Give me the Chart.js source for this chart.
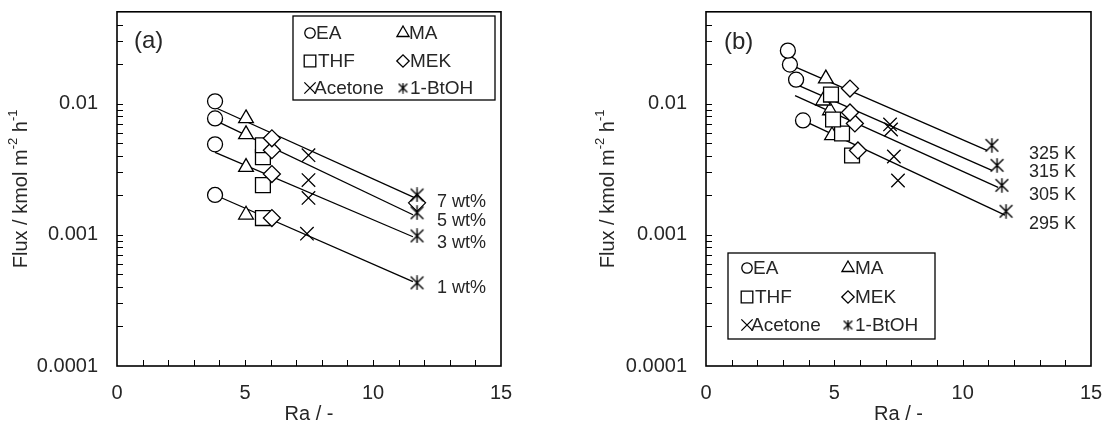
<!DOCTYPE html>
<html><head><meta charset="utf-8">
<script src="https://cdn.jsdelivr.net/npm/chart.js@4.4.0/dist/chart.umd.min.js"></script>
<style>
html,body{margin:0;padding:0;background:#fff;}
#wrap{position:relative;width:1108px;height:432px;overflow:hidden;}
canvas{position:absolute;top:0;}
</style></head><body>
<div id="wrap"><canvas id="ca" width="554" height="432" style="left:0"></canvas><canvas id="cb" width="554" height="432" style="left:554px"></canvas></div>
<script>
// ---------- Data: panel (a), concentration series (1, 3, 5, 7 wt%) ----------
const solventNames = ['EA', 'MA', 'THF', 'MEK', 'Acetone', '1-BtOH'];
const concLabels = ['7 wt%', '5 wt%', '3 wt%', '1 wt%'];
const tempLabels = ['325 K', '315 K', '305 K', '295 K'];
const xTickValues = [0, 5, 10, 15];
const yTickValues = [0.0001, 0.001, 0.01];

const a_EA_x = [3.83, 3.83, 3.83, 3.83];
const a_EA_y = [0.00201, 0.00489, 0.00770, 0.0104];
const a_MA_x = [5.04, 5.04, 5.04, 5.04];
const a_MA_y = [0.00142, 0.00328, 0.00582, 0.00770];
const a_THF_x = [5.70, 5.70, 5.70, 5.70];
const a_THF_y = [0.00134, 0.00239, 0.00390, 0.00481];
const a_MEK_x = [6.05, 6.05, 6.05, 6.05, 11.72];
const a_MEK_y = [0.00134, 0.00290, 0.00441, 0.00543, 0.00175];
const a_Ace_x = [7.42, 7.48, 7.48, 7.48];
const a_Ace_y = [0.00102, 0.00191, 0.00261, 0.00404];
const a_But_x = [11.72, 11.72, 11.72, 11.72];
const a_But_y = [0.00043, 0.00098, 0.00147, 0.00201];

// fitted lines (a): 1, 3, 5, 7 wt%
const a_fit1_x = [3.83, 11.56], a_fit1_y = [0.00201, 0.00044];
const a_fit3_x = [3.83, 11.56], a_fit3_y = [0.00425, 0.000966];
const a_fit5_x = [3.83, 11.56], a_fit5_y = [0.00744, 0.00142];
const a_fit7_x = [3.83, 11.64], a_fit7_y = [0.00933, 0.00191];

// ---------- Data: panel (b), temperature series (295 - 325 K) ----------
const b_EA_x = [3.78, 3.51, 3.27, 3.19];
const b_EA_y = [0.00743, 0.0152, 0.0198, 0.0253];
const b_MA_x = [4.91, 4.83, 4.56, 4.67];
const b_MA_y = [0.00571, 0.00885, 0.0105, 0.0155];
const b_THF_x = [5.69, 5.30, 4.95, 4.87];
const b_THF_y = [0.00402, 0.00591, 0.00756, 0.0117];
const b_MEK_x = [5.92, 5.80, 5.61, 5.61];
const b_MEK_y = [0.00439, 0.00705, 0.00854, 0.0130];
const b_Ace_x = [7.48, 7.32, 7.21, 7.17];
const b_Ace_y = [0.00259, 0.00395, 0.00634, 0.00693];
const b_But_x = [11.69, 11.53, 11.34, 11.14];
const b_But_y = [0.00151, 0.00238, 0.00338, 0.00480];

// fitted lines (b): 295, 305, 315, 325 K
const b_fit295_x = [3.78, 11.65], b_fit295_y = [0.00743, 0.00141];
const b_fit305_x = [3.47, 11.38], b_fit305_y = [0.0115, 0.00230];
const b_fit315_x = [3.51, 11.14], b_fit315_y = [0.0140, 0.00309];
const b_fit325_x = [3.27, 10.95], b_fit325_y = [0.0198, 0.00439];

// ---------- Rendering ----------
const FONT = "'Liberation Sans', Arial, Helvetica, sans-serif";
const TXT = '#262626';

function makeAsterisk(size, lw) {
  const c = document.createElement('canvas');
  c.width = size; c.height = size;
  const g = c.getContext('2d');
  g.strokeStyle = '#000'; g.lineWidth = lw; g.lineCap = 'butt';
  const m = 1.2, s = size;
  g.beginPath();
  g.moveTo(m, m); g.lineTo(s - m, s - m);
  g.moveTo(s - m, m); g.lineTo(m, s - m);
  g.moveTo(s / 2, 0.3); g.lineTo(s / 2, s - 0.3);
  g.stroke();
  return c;
}
const starBig = makeAsterisk(15, 1.4);
const starSmall = makeAsterisk(11, 1.3);

const styles = [
  {style: 'circle', r: 7.5, lr: 5.2},
  {style: 'triangle', r: 8.5, lr: 7},
  {style: 'rect', r: 10.5, lr: 8.2},
  {style: 'rectRot', r: 8.5, lr: 6.2},
  {style: 'crossRot', r: 9.5, lr: 8},
  {style: starBig, r: 7.5, lr: 5.5, legendStyle: starSmall}
];

function pts(xs, ys) { return xs.map((x, i) => ({x: x, y: ys[i]})); }

function drawYTitle(ctx, cx, cy) {
  const parts = [['Flux / kmol m', 20, 0], ['-2', 13, -8], [' h', 20, 0], ['-1', 13, -8]];
  ctx.save();
  ctx.translate(cx, cy);
  ctx.rotate(-Math.PI / 2);
  let total = 0;
  parts.forEach(p => { ctx.font = p[1] + 'px ' + FONT; total += ctx.measureText(p[0]).width; });
  let x = -total / 2;
  ctx.textBaseline = 'middle'; ctx.textAlign = 'left'; ctx.fillStyle = TXT;
  parts.forEach(p => { ctx.font = p[1] + 'px ' + FONT; ctx.fillText(p[0], x, p[2]); x += ctx.measureText(p[0]).width; });
  ctx.restore();
}

function buildChart(id, cfg) {
  const datasets = [];
  cfg.lines.forEach(l => datasets.push({
    type: 'line', data: pts(l[0], l[1]), borderColor: '#000', borderWidth: 1.3,
    pointRadius: 0, fill: false, showLine: true, tension: 0, order: 20
  }));
  cfg.series.forEach((s, k) => datasets.push({
    type: 'scatter', label: solventNames[k], data: pts(s[0], s[1]),
    pointStyle: styles[k].style, pointRadius: styles[k].r,
    pointBorderColor: '#000', pointBackgroundColor: '#fff', pointBorderWidth: 1.3,
    showLine: false, order: 10 - k
  }));

  const deco = {
    id: 'deco',
    afterDraw(chart) {
      const {ctx, chartArea: a, scales: {x, y}} = chart;
      ctx.save();
      // inward tick marks
      ctx.strokeStyle = '#000'; ctx.lineWidth = 1;
      ctx.beginPath();
      for (let v = 1; v < 15; v++) {
        const px = Math.round(x.getPixelForValue(v)) + 0.5;
        ctx.moveTo(px, a.bottom); ctx.lineTo(px, a.bottom - 6);
      }
      for (let e = -4; e <= -2; e++) {
        for (let m = 1; m <= 9; m++) {
          const v = m * Math.pow(10, e);
          if (e === -4 && m === 1) continue;
          if (v > 0.0499) break;
          const py = Math.round(y.getPixelForValue(v)) + 0.5;
          ctx.moveTo(a.left, py); ctx.lineTo(a.left + 6, py);
        }
      }
      ctx.stroke();
      // frame
      ctx.lineWidth = 1.6;
      ctx.strokeRect(a.left, a.top, a.right - a.left, a.bottom - a.top);
      // y title
      drawYTitle(ctx, cfg.yTitleX, (a.top + a.bottom) / 2);
      // panel label
      ctx.fillStyle = TXT; ctx.textBaseline = 'middle'; ctx.textAlign = 'left';
      ctx.font = '24px ' + FONT;
      ctx.fillText(cfg.panel[0], cfg.panel[1], cfg.panel[2]);
      // series annotations
      ctx.font = '18px ' + FONT;
      cfg.notes.forEach(n => ctx.fillText(n[0], n[1], n[2]));
      // legend
      const L = cfg.legend;
      ctx.fillStyle = '#fff';
      ctx.fillRect(L.x, L.y, L.w, L.h);
      ctx.strokeStyle = '#000'; ctx.lineWidth = 1.3;
      ctx.strokeRect(L.x, L.y, L.w, L.h);
      ctx.font = '19px ' + FONT;
      solventNames.forEach((name, k) => {
        const col = k % 2, row = Math.floor(k / 2);
        const mx = L.cols[col], my = L.rows[row];
        const st = styles[k];
        ctx.fillStyle = '#fff'; ctx.strokeStyle = '#000'; ctx.lineWidth = 1.3;
        Chart.helpers.drawPoint(ctx, {pointStyle: st.legendStyle || st.style, radius: st.lr, rotation: 0, borderWidth: 1.3}, mx, my);
        ctx.fillStyle = TXT;
        ctx.fillText(name, mx + L.textOff[k], my + 1);
      });
      ctx.restore();
    }
  };

  return new Chart(document.getElementById(id), {
    type: 'scatter',
    data: {datasets},
    options: {
      responsive: false, animation: false, events: [],
      layout: {padding: {top: 11, right: cfg.padRight, left: 0, bottom: 0}},
      plugins: {legend: {display: false}, tooltip: {enabled: false}, title: {display: false}},
      scales: {
        x: {
          type: 'linear', min: 0, max: 15,
          grid: {display: false, drawTicks: false}, border: {display: false},
          afterBuildTicks: s => { s.ticks = xTickValues.map(v => ({value: v})); },
          ticks: {color: TXT, font: {family: FONT, size: 20}, padding: 15, maxRotation: 0, autoSkip: false,
                  callback: v => String(v)},
          title: {display: true, text: 'Ra / -', color: TXT, font: {family: FONT, size: 20}, padding: {top: 0, bottom: 6}},
          afterFit: s => { s.height = 66; s.paddingLeft = 0; s.paddingRight = 0; }
        },
        y: {
          type: 'logarithmic', min: 0.0001, max: 0.05,
          grid: {display: false, drawTicks: false}, border: {display: false},
          afterBuildTicks: s => { s.ticks = yTickValues.map(v => ({value: v, major: true})); },
          ticks: {color: TXT, font: {family: FONT, size: 20}, padding: 19, autoSkip: false,
                  callback: v => String(v)},
          afterFit: s => { s.width = cfg.yWidth; s.paddingTop = 0; s.paddingBottom = 0; }
        }
      }
    },
    plugins: [deco]
  });
}

buildChart('ca', {
  yWidth: 117, padRight: 53, yTitleX: 21,
  series: [[a_EA_x, a_EA_y], [a_MA_x, a_MA_y], [a_THF_x, a_THF_y], [a_MEK_x, a_MEK_y], [a_Ace_x, a_Ace_y], [a_But_x, a_But_y]],
  lines: [[a_fit1_x, a_fit1_y], [a_fit3_x, a_fit3_y], [a_fit5_x, a_fit5_y], [a_fit7_x, a_fit7_y]],
  panel: ['(a)', 134, 41],
  notes: [[concLabels[0], 437, 202], [concLabels[1], 437, 221], [concLabels[2], 437, 243], [concLabels[3], 437, 288]],
  legend: {x: 293, y: 16, w: 202, h: 84, rows: [33, 61, 88], cols: [310, 403], textOff: [6, 6, 8, 7, 4, 7]}
});

buildChart('cb', {
  yWidth: 152, padRight: 17, yTitleX: 54,
  series: [[b_EA_x, b_EA_y], [b_MA_x, b_MA_y], [b_THF_x, b_THF_y], [b_MEK_x, b_MEK_y], [b_Ace_x, b_Ace_y], [b_But_x, b_But_y]],
  lines: [[b_fit295_x, b_fit295_y], [b_fit305_x, b_fit305_y], [b_fit315_x, b_fit315_y], [b_fit325_x, b_fit325_y]],
  panel: ['(b)', 170, 42],
  notes: [[tempLabels[0], 475, 154], [tempLabels[1], 475, 172], [tempLabels[2], 475, 195], [tempLabels[3], 475, 224]],
  legend: {x: 174, y: 253, w: 207, h: 86, rows: [268, 297, 325], cols: [193, 294], textOff: [6, 7, 8, 7, 4, 7]}
});
</script>
</body></html>
